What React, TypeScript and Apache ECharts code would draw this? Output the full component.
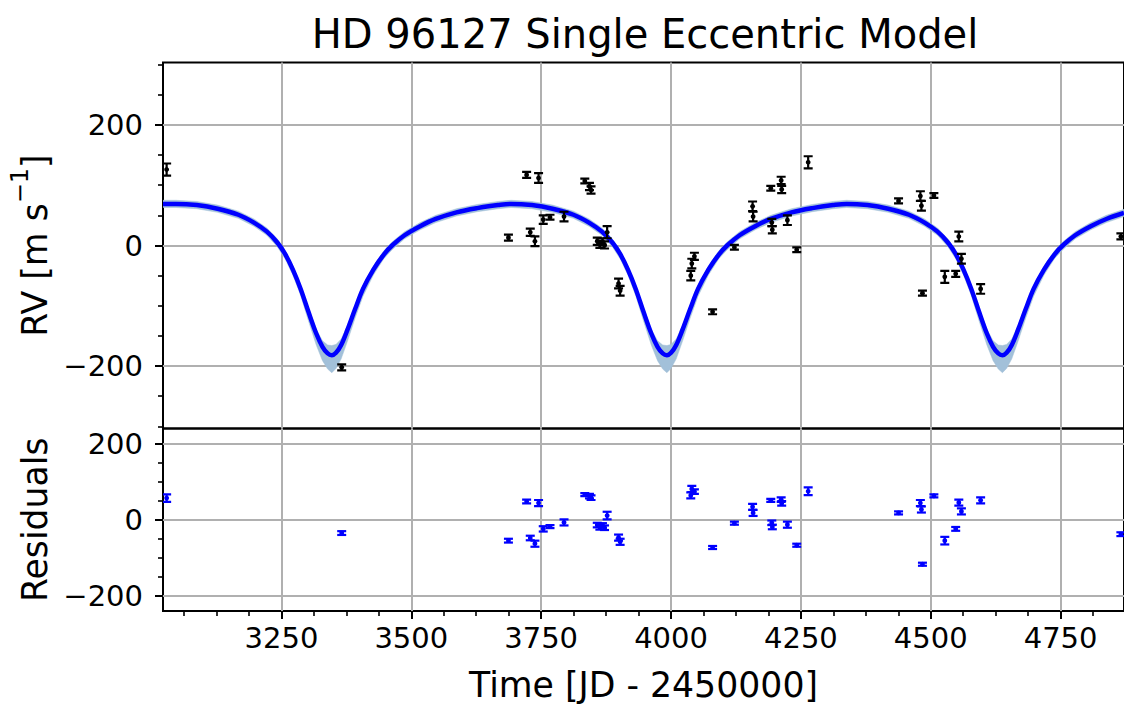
import React, { useEffect, useRef } from 'react';
import * as echarts from 'echarts';

// ---- observed radial velocities (black) ----
const rvTime = [3029, 3366, 3687, 3722, 3729, 3738, 3745, 3754, 3767, 3794, 3834, 3843, 3846, 3858, 3863, 3868, 3872, 3877, 3899, 3902, 4038, 4040, 4045, 4080, 4122, 4157, 4158, 4192, 4194, 4195, 4212, 4213, 4224, 4242, 4264, 4438, 4480, 4482, 4484, 4506, 4527, 4548, 4554, 4559, 4596, 4866];
const rvValue = [126, -202, 13, 117, 22, 7, 112, 43, 47, 48, 107, 98, 92, 7, 2, 6, 1, 22, -63, -75, -50, -30, -18, -110, -3, 65, 48, 95, 38, 26, 108, 93, 42, -7, 138, 74, 82, 66, -79, 83, -52, -47, 15, -22, -72, 15];
const rvError = [10, 5, 5, 5, 6, 8, 8, 7, 4, 8, 4, 6, 6, 6, 6, 6, 6, 10, 8, 8, 8, 8, 6, 4, 4, 8, 8, 4, 6, 6, 6, 6, 8, 4, 10, 4, 8, 8, 4, 4, 10, 5, 8, 8, 8, 5];
// ---- residuals (blue) ----
const residualValue = [57, -35, -55, 48, -48, -63, 44, -24, -18, -7, 66, 62, 58, -14, -20, -15, -21, 11, -47, -58, 64, 81, 74, -73, -9, 34, 18, 51, -8, -19, 53, 43, -13, -67, 75, 18, 44, 27, -117, 63, -55, -24, 45, 22, 51, -38];

// ---- model curve and its uncertainty band ----
const modelTime = [3022, 3047, 3087, 3127, 3167, 3197, 3222, 3242, 3257, 3272, 3287, 3302, 3317, 3329, 3339, 3347, 3355, 3365, 3377, 3392, 3407, 3427, 3447, 3463, 3487, 3517, 3547, 3587, 3627, 3667, 3692,
  3732, 3772, 3812, 3842, 3867, 3887, 3902, 3917, 3932, 3947, 3962, 3974, 3984, 3992, 4000, 4010, 4022, 4037, 4052, 4072, 4092, 4108, 4132, 4162, 4192, 4232, 4272, 4312, 4338,
  4378, 4418, 4458, 4488, 4513, 4533, 4548, 4563, 4578, 4593, 4608, 4620, 4630, 4638, 4646, 4656, 4668, 4683, 4698, 4718, 4738, 4754, 4778, 4808, 4838, 4872];
const modelRV = [69, 69, 67, 61, 51, 38, 23, 5, -14, -40, -72, -110, -146, -168, -179, -182, -178, -165, -140, -105, -72, -40, -15, 0, 17, 32, 44, 55, 62, 67, 69,
  67, 61, 51, 38, 23, 5, -14, -40, -72, -110, -146, -168, -179, -182, -178, -165, -140, -105, -72, -40, -15, 0, 17, 32, 44, 55, 62, 67, 69,
  67, 61, 51, 38, 23, 5, -14, -40, -72, -110, -146, -168, -179, -182, -178, -165, -140, -105, -72, -40, -15, 0, 17, 32, 44, 54];
const bandLow = [63, 63, 61, 55, 45, 32, 17, -2, -22, -49, -83, -125, -165, -191, -205, -211, -204, -188, -159, -120, -84, -49, -22, -7, 11, 26, 38, 49, 56, 61, 63,
  61, 55, 45, 32, 17, -2, -22, -49, -83, -125, -165, -191, -205, -211, -204, -188, -159, -120, -84, -49, -22, -7, 11, 26, 38, 49, 56, 61, 63,
  61, 55, 45, 32, 17, -2, -22, -49, -83, -125, -165, -191, -205, -211, -204, -188, -159, -120, -84, -49, -22, -7, 11, 26, 38, 48];
const bandHigh = [75, 75, 73, 67, 57, 44, 29, 11, -9, -34, -66, -104, -139, -158, -165, -166, -164, -155, -133, -99, -66, -34, -9, 6, 23, 38, 50, 61, 68, 73, 75,
  73, 67, 57, 44, 29, 11, -9, -34, -66, -104, -139, -158, -165, -166, -164, -155, -133, -99, -66, -34, -9, 6, 23, 38, 50, 61, 68, 73, 75,
  73, 67, 57, 44, 29, 11, -9, -34, -66, -104, -139, -158, -165, -166, -164, -155, -133, -99, -66, -34, -9, 6, 23, 38, 50, 60];

// ---- ticks ----
const xMajorTicks = [3250, 3500, 3750, 4000, 4250, 4500, 4750];
const xMinorTicks = [3062.5, 3125, 3187.5, 3312.5, 3375, 3437.5, 3562.5, 3625, 3687.5, 3812.5, 3875, 3937.5, 4062.5, 4125, 4187.5, 4312.5, 4375, 4437.5, 4562.5, 4625, 4687.5, 4812.5];
const rvMajorTicks = [-200, 0, 200];
const rvMinorTicks = [-300, -250, -150, -100, -50, 50, 100, 150, 250, 300];
const resMajorTicks = [-200, 0, 200];
const resMinorTicks = [-150, -100, -50, 50, 100, 150];

const FONT = 'DejaVu Sans';
const GRID_COLOR = '#b0b0b0';

function errorBars(xAxisIndex: number, yAxisIndex: number, values: number[], color: string) {
  const data = rvTime.map((t, i) => [t, values[i], rvError[i]]);
  return {
    type: 'custom',
    xAxisIndex,
    yAxisIndex,
    data,
    clip: true,
    z: 6,
    renderItem: (_params: any, api: any) => {
      const x = api.value(0);
      const y = api.value(1);
      const e = api.value(2);
      const c = api.coord([x, y]);
      const t = api.coord([x, y + e]);
      const b = api.coord([x, y - e]);
      const hw = 4.5;
      const st = { stroke: color, lineWidth: 2.2 };
      return {
        type: 'group',
        children: [
          { type: 'line', shape: { x1: c[0], y1: t[1], x2: c[0], y2: b[1] }, style: st },
          { type: 'line', shape: { x1: c[0] - hw, y1: t[1], x2: c[0] + hw, y2: t[1] }, style: st },
          { type: 'line', shape: { x1: c[0] - hw, y1: b[1], x2: c[0] + hw, y2: b[1] }, style: st },
          { type: 'circle', shape: { cx: c[0], cy: c[1], r: 2.4 }, style: { fill: color } },
        ],
      };
    },
  };
}

const fmt = (v: number) => String(v).replace('-', '\u2212');

export default function App() {
  const ref = useRef<HTMLDivElement>(null);
  useEffect(() => {
    if (!ref.current) return;
    const chart = echarts.init(ref.current, null, { renderer: 'svg' });
    const xMin = 3022;
    const xMax = 4872;
    const tickLabel = { fontFamily: FONT, fontSize: 29, color: '#000' };
    const bandRows = modelTime.map((t, i) => [t, bandLow[i], bandHigh[i]]);
    const option: any = {
      animation: false,
      backgroundColor: '#fff',
      graphic: [
        {
          type: 'text',
          x: 645,
          y: 34,
          style: {
            text: 'HD 96127 Single Eccentric Model',
            fontFamily: FONT,
            fontSize: 40,
            fill: '#000',
            textAlign: 'center',
            textVerticalAlign: 'middle',
          },
        },
      ],
      grid: [
        { left: 163, right: -4, top: 62.5, height: 366, show: true, borderColor: '#000', borderWidth: 2, backgroundColor: 'transparent' },
        { left: 163, right: -4, top: 428.5, height: 182.5, show: true, borderColor: '#000', borderWidth: 2, backgroundColor: 'transparent' },
      ],
      xAxis: [
        {
          type: 'value', gridIndex: 0, min: xMin, max: xMax,
          axisLine: { show: false, onZero: false },
          axisTick: { show: false, customValues: xMajorTicks },
          axisLabel: { show: false, customValues: xMajorTicks },
          splitLine: { show: true, lineStyle: { color: GRID_COLOR, width: 2 } },
        },
        {
          type: 'value', gridIndex: 1, min: xMin, max: xMax, position: 'bottom',
          axisLine: { show: false, onZero: false },
          axisTick: { show: true, length: 8, lineStyle: { color: '#000', width: 2 }, customValues: xMajorTicks },
          axisLabel: { ...tickLabel, margin: 12, customValues: xMajorTicks, formatter: fmt },
          splitLine: { show: true, lineStyle: { color: GRID_COLOR, width: 2 } },
          name: 'Time [JD - 2450000]',
          nameLocation: 'middle',
          nameGap: 56,
          nameTextStyle: { fontFamily: FONT, fontSize: 34.7, color: '#000' },
        },
        {
          type: 'value', gridIndex: 1, min: xMin, max: xMax, position: 'bottom',
          axisLine: { show: false, onZero: false },
          axisTick: { show: true, length: 5, lineStyle: { color: '#000', width: 1.6 }, customValues: xMinorTicks },
          axisLabel: { show: false },
          splitLine: { show: false },
        },
      ],
      yAxis: [
        {
          type: 'value', gridIndex: 0, min: -303.5, max: 303.5, position: 'left',
          axisLine: { show: false, onZero: false },
          axisTick: { show: true, length: 8, lineStyle: { color: '#000', width: 2 }, customValues: rvMajorTicks },
          axisLabel: { ...tickLabel, margin: 20, customValues: rvMajorTicks, formatter: fmt },
          splitLine: { show: true, lineStyle: { color: GRID_COLOR, width: 2 } },
          name: '{a|RV [m s}{b|\u22121}{a|]}',
          nameLocation: 'middle',
          nameRotate: 90,
          nameGap: 110,
          nameTextStyle: {
            rich: {
              a: { fontFamily: FONT, fontSize: 34.7, color: '#000', lineHeight: 44, verticalAlign: 'bottom' },
              b: { fontFamily: FONT, fontSize: 24, color: '#000', lineHeight: 24, verticalAlign: 'top' },
            },
          },
        },
        {
          type: 'value', gridIndex: 0, min: -303.5, max: 303.5, position: 'left',
          axisLine: { show: false, onZero: false },
          axisTick: { show: true, length: 5, lineStyle: { color: '#000', width: 1.6 }, customValues: rvMinorTicks },
          axisLabel: { show: false },
          splitLine: { show: false },
        },
        {
          type: 'value', gridIndex: 1, min: -240, max: 240, position: 'left',
          axisLine: { show: false, onZero: false },
          axisTick: { show: true, length: 8, lineStyle: { color: '#000', width: 2 }, customValues: resMajorTicks },
          axisLabel: { ...tickLabel, margin: 20, customValues: resMajorTicks, formatter: fmt },
          splitLine: { show: true, lineStyle: { color: GRID_COLOR, width: 2 } },
          name: 'Residuals',
          nameLocation: 'middle',
          nameRotate: 90,
          nameGap: 110,
          nameTextStyle: { fontFamily: FONT, fontSize: 34.7, color: '#000' },
        },
        {
          type: 'value', gridIndex: 1, min: -240, max: 240, position: 'left',
          axisLine: { show: false, onZero: false },
          axisTick: { show: true, length: 5, lineStyle: { color: '#000', width: 1.6 }, customValues: resMinorTicks },
          axisLabel: { show: false },
          splitLine: { show: false },
        },
      ],
      series: [
        {
          type: 'custom', xAxisIndex: 0, yAxisIndex: 0,
          data: [[xMin, 0]],
          clip: true,
          z: 3,
          silent: true,
          renderItem: (_params: any, api: any) => {
            const upper = bandRows.map((r) => api.coord([r[0], r[2]]));
            const lower = bandRows.map((r) => api.coord([r[0], r[1]])).reverse();
            return {
              type: 'polygon',
              shape: { points: upper.concat(lower) },
              style: { fill: '#a2c0d9', stroke: '#a2c0d9', lineWidth: 0.5 },
            };
          },
        },
        {
          type: 'line', xAxisIndex: 0, yAxisIndex: 0,
          data: modelTime.map((t, i) => [t, modelRV[i]]),
          symbol: 'none', smooth: 0.35,
          lineStyle: { color: '#0000ff', width: 4.5 },
          z: 4,
        },
        errorBars(0, 0, rvValue, '#000000'),
        errorBars(1, 2, residualValue, '#0000ff'),
      ],
    };
    chart.setOption(option);
    return () => chart.dispose();
  }, []);
  return <div ref={ref} style={{ position: 'absolute', left: 0, top: 0, width: 1124, height: 707 }} />;
}
